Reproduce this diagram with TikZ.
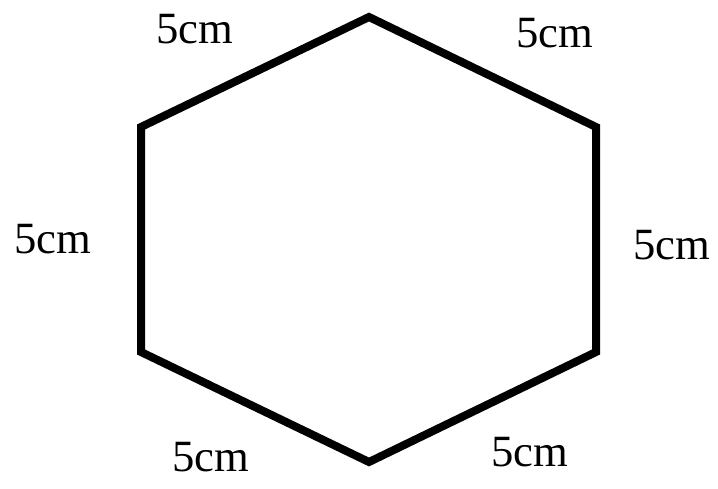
\documentclass[tikz,border=0pt]{standalone}
\usepackage{fontspec}
\setmainfont{Liberation Serif}
\usetikzlibrary{positioning}

\begin{document}
\begin{tikzpicture}[x=0.75pt, y=-0.75pt]
  \useasboundingbox (0,0) rectangle (718,489);

  % Sudut segi enam
  \coordinate (A) at (369,17);
  \coordinate (B) at (596,127);
  \coordinate (C) at (596,352);
  \coordinate (D) at (369,462);
  \coordinate (E) at (141,352);
  \coordinate (F) at (141,127);

  % Sisi segi enam
  \draw[line width=6pt] (A) -- (B) -- (C) -- (D) -- (E) -- (F) -- cycle;

  % Label panjang sisi
  \node[anchor=base, inner sep=0pt, font=\fontsize{33.5}{40}\selectfont] (L1) at (194.5,43) {5cm};
  \node[anchor=base, inner sep=0pt, font=\fontsize{33.5}{40}\selectfont] (L2) at (555,47) {5cm};
  \node[anchor=base, inner sep=0pt, font=\fontsize{33.5}{40}\selectfont] (L3) at (671.5,259) {5cm};
  \node[anchor=base, inner sep=0pt, font=\fontsize{33.5}{40}\selectfont] (L4) at (530,466) {5cm};
  \node[anchor=base, inner sep=0pt, font=\fontsize{33.5}{40}\selectfont] (L5) at (211,471) {5cm};
  \node[anchor=base, inner sep=0pt, font=\fontsize{33.5}{40}\selectfont] (L6) at (53,253) {5cm};

\end{tikzpicture}
\end{document}
